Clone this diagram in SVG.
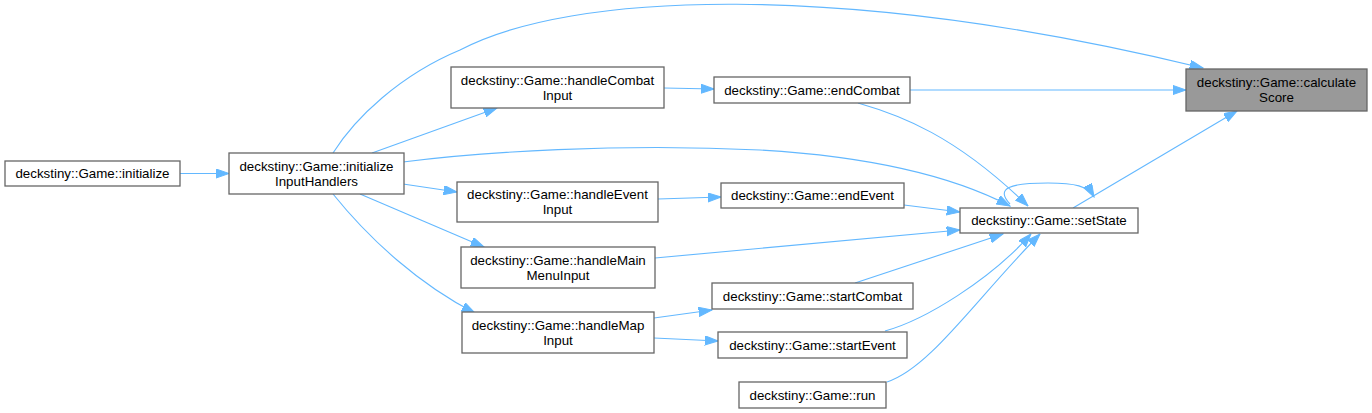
<svg xmlns="http://www.w3.org/2000/svg" width="1372" height="413" viewBox="0 0 1372 413">
<defs>
<style>
.node rect{fill:#ffffff;stroke:#666666;stroke-width:1.3}
.node.hl rect{fill:#999999}
.node text{font-family:"Liberation Sans",Arial,Helvetica,sans-serif;font-size:13.33px;fill:#000000;text-anchor:middle}
.edges path{fill:none;stroke:#63b8ff;stroke-width:1.1;marker-end:url(#arr)}
</style>
<marker id="arr" markerUnits="userSpaceOnUse" markerWidth="14" markerHeight="10" refX="13.3" refY="4.65" orient="auto" viewBox="0 0 14 10">
<path d="M0,0 L13.3,4.65 L0,9.3 z" fill="#63b8ff" stroke="#63b8ff" stroke-width="1"/>
</marker>
</defs>
<rect width="1372" height="413" fill="#ffffff"/>
<g id="edges" class="edges">
<path d="M180,173.5 L229,173.5"/>
<path d="M333,153 C355,118 400,75 460,50 C570,-8 840,-20 1203,68"/>
<path d="M372,153 L497,108"/>
<path d="M403,162 C480,152 620,143 760,150 C880,157 960,180 1010,206"/>
<path d="M664,88 L714,89"/>
<path d="M910,90 L1186,90"/>
<path d="M858,103 C900,115 955,135 1028,206"/>
<path d="M403,184 L457,192"/>
<path d="M658,199 L721,197"/>
<path d="M904,205 L960,212"/>
<path d="M655,258 L960,230"/>
<path d="M360,194 L484,247"/>
<path d="M855,283 L1003,234"/>
<path d="M885,331 C925,320 990,280 1031,234"/>
<path d="M887,382 C930,368 975,300 1040,234"/>
<path d="M333,194 C370,240 420,285 475,313"/>
<path d="M654,318 L712,310"/>
<path d="M654,338 L718,341"/>
<path d="M1073,208 L1237,111"/>
<path d="M1010,204 C995,188 1010,183 1048,183 C1075,183 1088,186 1094,197"/>
</g>
<g id="initialize" class="node"><rect x="5" y="161" width="175" height="25"/><text x="92.5" y="178">deckstiny::Game::initialize</text></g>
<g id="initializeInputHandlers" class="node"><rect x="229" y="153" width="175" height="41"/><text x="316.5" y="170.5">deckstiny::Game::initialize</text><text x="316.5" y="185.5">InputHandlers</text></g>
<g id="handleCombatInput" class="node"><rect x="451" y="67" width="213" height="41"/><text x="557.5" y="84.5">deckstiny::Game::handleCombat</text><text x="557.5" y="99.5">Input</text></g>
<g id="endCombat" class="node"><rect x="714" y="77" width="196" height="26"/><text x="812" y="94.5">deckstiny::Game::endCombat</text></g>
<g id="calculateScore" class="node hl"><rect x="1186" y="69" width="181" height="42"/><text x="1276.5" y="87">deckstiny::Game::calculate</text><text x="1276.5" y="102">Score</text></g>
<g id="handleEventInput" class="node"><rect x="457" y="182" width="201" height="40"/><text x="557.5" y="199">deckstiny::Game::handleEvent</text><text x="557.5" y="214">Input</text></g>
<g id="endEvent" class="node"><rect x="721" y="183" width="183" height="25"/><text x="812.5" y="200">deckstiny::Game::endEvent</text></g>
<g id="handleMainMenuInput" class="node"><rect x="461" y="247" width="194" height="41"/><text x="558" y="264.5">deckstiny::Game::handleMain</text><text x="558" y="279.5">MenuInput</text></g>
<g id="startCombat" class="node"><rect x="712" y="283" width="201" height="26"/><text x="812.5" y="300.5">deckstiny::Game::startCombat</text></g>
<g id="handleMapInput" class="node"><rect x="462" y="312" width="192" height="41"/><text x="558" y="329.5">deckstiny::Game::handleMap</text><text x="558" y="344.5">Input</text></g>
<g id="startEvent" class="node"><rect x="718" y="332" width="189" height="26"/><text x="812.5" y="349.5">deckstiny::Game::startEvent</text></g>
<g id="run" class="node"><rect x="739" y="382" width="147" height="26"/><text x="812.5" y="399.5">deckstiny::Game::run</text></g>
<g id="setState" class="node"><rect x="960" y="208" width="178" height="25"/><text x="1049" y="225">deckstiny::Game::setState</text></g>
</svg>
